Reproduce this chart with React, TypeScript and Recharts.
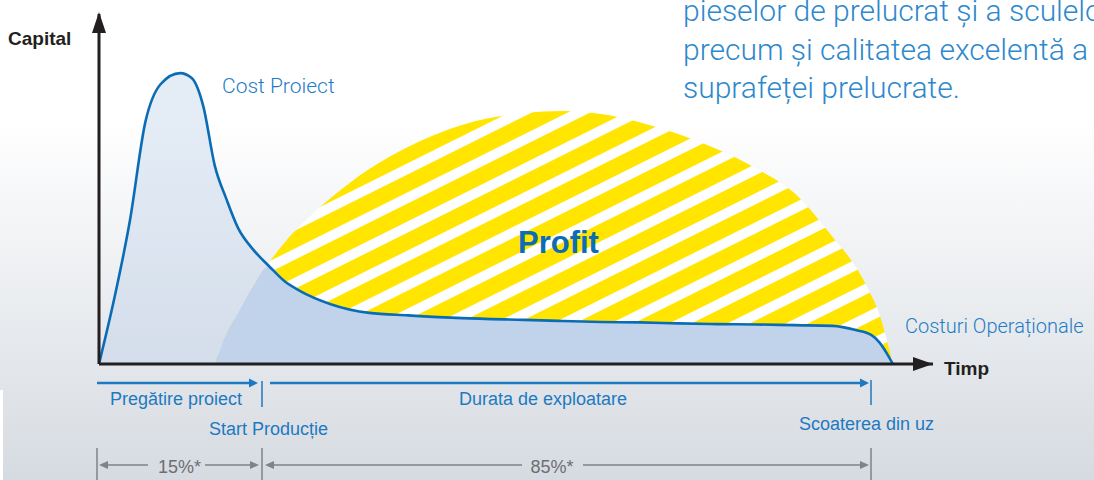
import React from 'react';
import { ComposedChart, Area, Line, XAxis, YAxis, ReferenceLine, ReferenceDot } from 'recharts';

// time along the product life (0 = project start, 100 = scrapping)
const timeline = [0, 2, 4, 6, 8, 10.5, 12, 13.5, 15, 16.5, 18, 20, 22, 24, 26, 30, 35, 40, 47, 55, 60, 65, 70, 75, 80, 85, 90, 95, 98, 100, 101, 102, 102.8];

// capital tied in the project / operating costs
const projectCost = [0, 18.9, 40.9, 69.1, 80.0, 83.1, 81.7, 73.7, 56.6, 47.1, 38.9, 32.6, 28.0, 23.7, 20.9, 17.1, 14.6, 13.9, 13.1, 12.6, 12.3, 12.0, 11.9, 11.6, 11.4, 11.3, 11.1, 10.9, 9.7, 8.3, 6.3, 3.1, 0];

// outline of the profit dome
const profitDome = [null, null, null, null, null, null, null, null, 0, 8.6, 14.6, 22.3, 28.9, 34.6, 39.4, 47.4, 55.7, 62.0, 68.3, 71.7, 72.3, 71.4, 69.1, 65.7, 61.4, 56.0, 48.9, 36.3, 27.7, 19.7, 14.6, 7.1, 0];

const introLines = [
  'pieselor de prelucrat și a sculelor,',
  'precum și calitatea excelentă a',
  'suprafeței prelucrate.',
];

const data = timeline.map((t, i) => ({
  t,
  cost: projectCost[i],
  profit: profitDome[i],
  shared: profitDome[i] == null ? null : Math.min(profitDome[i] as number, projectCost[i]),
}));

const BLACK = '#231f20';
const BLUE = '#1d79c1';
const GRAY = '#808285';
const FONT = '"Liberation Sans", Arial, Helvetica, sans-serif';
const LIGHT_FONT = 'Roboto, "Liberation Sans", Arial, sans-serif';

const UpArrow = (props: any) => {
  const { cx, cy } = props;
  return <polygon points={`${cx},${cy - 2} ${cx - 7},${cy + 19} ${cx + 7},${cy + 19}`} fill={BLACK} />;
};

const RightArrow = (props: any) => {
  const { cx, cy } = props;
  return <polygon points={`${cx},${cy} ${cx - 20},${cy - 7} ${cx - 20},${cy + 7}`} fill={BLACK} />;
};

export default function App() {
  return (
    <div
      style={{
        position: 'absolute',
        left: 0,
        top: 0,
        width: 1094,
        height: 480,
        overflow: 'hidden',
        background: 'linear-gradient(to bottom, #ffffff 0px, #ffffff 120px, #d6dbe1 480px)',
        fontFamily: FONT,
      }}
    >
      <svg width={0} height={0} style={{ position: 'absolute' }}>
        <defs>
          <pattern id="profitStripes" patternUnits="userSpaceOnUse" width={26} height={26} patternTransform="rotate(-26.5)">
            <rect width={26} height={26} fill="#ffffff" />
            <rect width={26} height={16} fill="#ffe500" />
          </pattern>
        </defs>
      </svg>

      <div style={{ position: 'absolute', left: 0, top: 390, width: 3, height: 90, background: '#fff' }} />

      <div style={{ position: 'absolute', left: 0, top: 0 }}>
        <ComposedChart width={1094} height={480} data={data} margin={{ top: 14, right: 161, left: 99, bottom: 116 }}>
          <XAxis dataKey="t" type="number" domain={[0, 108]} hide />
          <YAxis type="number" domain={[0, 100]} hide />
          <Area dataKey="profit" type="monotone" fill="url(#profitStripes)" fillOpacity={1} stroke="none" isAnimationActive={false} />
          <Area dataKey="cost" type="monotone" fill="#bed1ea" fillOpacity={0.42} stroke="none" isAnimationActive={false} />
          <Area dataKey="shared" type="monotone" fill="#c1d3ea" fillOpacity={1} stroke="none" isAnimationActive={false} />
          <Line dataKey="cost" type="monotone" stroke="#0a6cb5" strokeWidth={2.6} dot={false} activeDot={false} isAnimationActive={false} />
          <ReferenceLine y={0} stroke={BLACK} strokeWidth={3} />
          <ReferenceLine x={0} stroke={BLACK} strokeWidth={3} />
          <ReferenceDot x={0} y={100} r={0} shape={UpArrow} ifOverflow="visible" />
          <ReferenceDot x={108} y={0} r={0} shape={RightArrow} ifOverflow="visible" />
        </ComposedChart>
      </div>

      <svg width={1094} height={480} style={{ position: 'absolute', left: 0, top: 0, pointerEvents: 'none' }} fontFamily={FONT}>
        {introLines.map((line, i) => (
          <text key={i} x={683} y={21 + i * 38.5} fontSize={30} fontWeight={300} fontFamily={LIGHT_FONT} fill="#2e88cc">
            {line}
          </text>
        ))}

        <text x={8} y={45} fontSize={19} fontWeight="bold" fill={BLACK}>Capital</text>
        <text x={944} y={375} fontSize={19} fontWeight="bold" fill={BLACK}>Timp</text>
        <text x={222} y={93} fontSize={21} fontWeight={300} fontFamily={LIGHT_FONT} fill="#1f7cc5">Cost Proiect</text>
        <text x={905} y={333} fontSize={20} fontWeight={300} fontFamily={LIGHT_FONT} fill="#1f7cc5">Costuri Operaționale</text>
        <text x={518} y={253} fontSize={31} fontWeight="bold" fill="#0c6cb6">Profit</text>

        {/* phases */}
        <line x1={97} y1={383} x2={250} y2={383} stroke={BLUE} strokeWidth={2.5} />
        <polygon points="249,378.5 258,383 249,387.5" fill={BLUE} />
        <line x1={262} y1={381} x2={262} y2={407} stroke={BLUE} strokeWidth={1.5} />
        <line x1={270} y1={383} x2={861} y2={383} stroke={BLUE} strokeWidth={2.5} />
        <polygon points="860,378.5 869,383 860,387.5" fill={BLUE} />
        <line x1={871} y1={380} x2={871} y2={405} stroke={BLUE} strokeWidth={1.5} />

        <text x={110} y={405} fontSize={18} fill={BLUE}>Pregătire proiect</text>
        <text x={543} y={405} fontSize={18} fill={BLUE} textAnchor="middle">Durata de exploatare</text>
        <text x={268.5} y={435} fontSize={18} fill={BLUE} textAnchor="middle">Start Producție</text>
        <text x={866.5} y={430} fontSize={18} fill={BLUE} textAnchor="middle">Scoaterea din uz</text>

        {/* share of life */}
        <line x1={97} y1={448} x2={97} y2={480} stroke={GRAY} strokeWidth={1.5} />
        <line x1={262} y1={448} x2={262} y2={480} stroke={GRAY} strokeWidth={1.5} />
        <line x1={871} y1={448} x2={871} y2={480} stroke={GRAY} strokeWidth={1.5} />

        <polygon points="99,465 108,461 108,469" fill={GRAY} />
        <line x1={107} y1={465} x2={148} y2={465} stroke={GRAY} strokeWidth={1.5} />
        <line x1={205} y1={465} x2={251} y2={465} stroke={GRAY} strokeWidth={1.5} />
        <polygon points="259,465 250,461 250,469" fill={GRAY} />
        <text x={179.5} y={473} fontSize={18} fill="#6d6e71" textAnchor="middle">15%*</text>

        <polygon points="265,465 274,461 274,469" fill={GRAY} />
        <line x1={273} y1={465} x2={522} y2={465} stroke={GRAY} strokeWidth={1.5} />
        <line x1={583} y1={465} x2={861} y2={465} stroke={GRAY} strokeWidth={1.5} />
        <polygon points="869,465 860,461 860,469" fill={GRAY} />
        <text x={552} y={473} fontSize={18} fill="#6d6e71" textAnchor="middle">85%*</text>
      </svg>
    </div>
  );
}
